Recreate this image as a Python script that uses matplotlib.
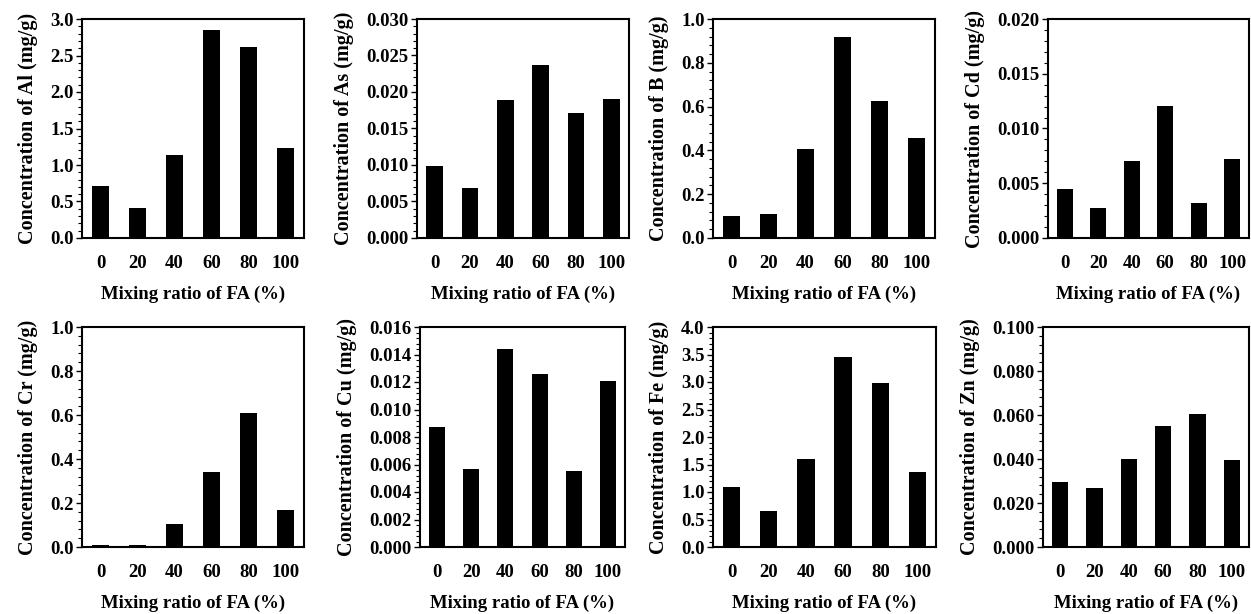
import numpy as np
import matplotlib
matplotlib.use("Agg")
import matplotlib.pyplot as plt
from matplotlib.ticker import AutoMinorLocator, FormatStrFormatter

# mixing ratio of FA (%)
ratios = ["0", "20", "40", "60", "80", "100"]

# concentrations (mg/g)
al = [0.71, 0.41, 1.14, 2.85, 2.62, 1.23]
as_ = [0.0098, 0.0069, 0.0189, 0.0237, 0.0171, 0.0191]
b = [0.10, 0.11, 0.405, 0.92, 0.625, 0.455]
cd = [0.0045, 0.0027, 0.0070, 0.0121, 0.0032, 0.0072]
cr = [0.008, 0.008, 0.105, 0.34, 0.61, 0.17]
cu = [0.0087, 0.0057, 0.0144, 0.0126, 0.0055, 0.0121]
fe = [1.10, 0.66, 1.60, 3.46, 2.98, 1.36]
zn = [0.0295, 0.027, 0.040, 0.055, 0.0605, 0.0395]

elements = ["Al", "As", "B", "Cd", "Cr", "Cu", "Fe", "Zn"]
values = [al, as_, b, cd, cr, cu, fe, zn]
ymax = [3.0, 0.030, 1.0, 0.020, 1.0, 0.016, 4.0, 0.100]
ystep = [0.5, 0.005, 0.2, 0.005, 0.2, 0.002, 0.5, 0.020]
yfmt = ["%.1f", "%.3f", "%.1f", "%.3f", "%.1f", "%.3f", "%.1f", "%.3f"]

W, H = 1251, 614
# axes boxes in pixels: left, right, top, bottom
boxes = [(82, 304, 19, 238), (417, 629, 19, 238), (713, 935, 19, 238), (1048, 1249, 19, 238),
         (82, 304, 327, 547), (420, 625, 327, 547), (713, 936, 327, 547), (1043, 1249, 327, 547)]

plt.rcParams['font.family'] = ['Liberation Serif', 'DejaVu Serif']
plt.rcParams['font.weight'] = 'bold'

fig = plt.figure(figsize=(W / 100, H / 100), dpi=100)
x = np.arange(len(ratios))

for i, el in enumerate(elements):
    l, r, t, bt = boxes[i]
    ax = fig.add_axes([l / W, 1 - bt / H, (r - l) / W, (bt - t) / H])
    ax.bar(x, values[i], width=0.47, color='black')
    ax.set_xlim(-0.5, 5.5)
    ax.set_ylim(0, ymax[i])
    ax.set_yticks(np.arange(0, ymax[i] + ystep[i] / 2, ystep[i]))
    ax.yaxis.set_major_formatter(FormatStrFormatter(yfmt[i]))
    ax.yaxis.set_minor_locator(AutoMinorLocator(5))
    ax.set_xticks(x)
    ax.set_xticklabels(ratios)
    ax.tick_params(axis='x', length=0, pad=12, labelsize=13.5)
    ax.tick_params(axis='y', which='major', direction='out', length=4, width=1, pad=2, labelsize=13.5)
    ax.tick_params(axis='y', which='minor', direction='out', length=3, width=0.8)
    for s in ax.spines.values():
        s.set_linewidth(1.5)
    ax.set_xlabel("Mixing ratio of FA (%)", fontsize=13.5, fontweight='bold', labelpad=10)
    ax.set_ylabel("Concentration of %s (mg/g)" % el, fontsize=14.5, fontweight='bold', labelpad=9)

fig.savefig("out.png", dpi=100)
